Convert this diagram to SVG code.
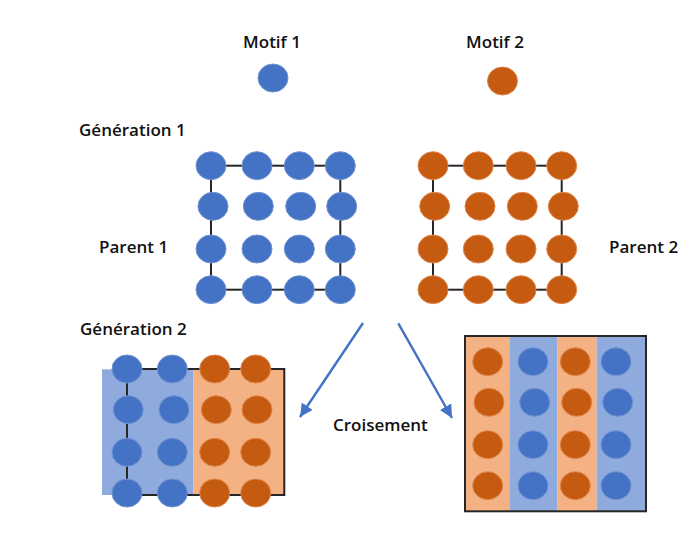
<svg xmlns="http://www.w3.org/2000/svg" width="685" height="537" viewBox="0 0 685 537">
<style>
.b{fill:#4472c4;stroke:#6f93d3;stroke-width:1}
.o{fill:#c55a11;stroke:#e0864a;stroke-width:1}
.ln{fill:none;stroke:#262626;stroke-width:2}
.t{font-family:"Open Sans","Liberation Sans",sans-serif;font-size:17px;font-weight:600;fill:#111}
.arr{stroke:#4472c4;stroke-width:2.400;fill:none;marker-end:url(#ah)}
</style>
<defs>
<marker id="ah" markerUnits="userSpaceOnUse" markerWidth="16" markerHeight="14" refX="13" refY="6.500" orient="auto"><path d="M0 0L13 6.500L0 13Z" fill="#4472c4"/></marker>
<ellipse id="c" cx="0" cy="0" rx="15" ry="14"/>
</defs>
<rect width="685" height="537" fill="#fff"/>
<g id="labels">
<text class="t" x="272" y="48" text-anchor="middle">Motif 1</text>
<text class="t" x="495" y="48" text-anchor="middle">Motif 2</text>
<text class="t" x="79" y="136">Génération 1</text>
<text class="t" x="99" y="253">Parent 1</text>
<text class="t" x="609" y="253">Parent 2</text>
<text class="t" x="80" y="335">Génération 2</text>
<text class="t" x="333" y="431">Croisement</text>
</g>
<g id="motif1"><use href="#c" class="b" x="273" y="78"/></g>
<g id="motif2"><use href="#c" class="o" x="502.500" y="81"/></g>
<g id="connectors">
<path class="arr" d="M363 323L300 417"/>
<path class="arr" d="M398.300 323.300L452 418"/>
</g>
<g id="parent1">
<rect class="ln" x="211" y="165.700" width="129.300" height="124"/>
<use href="#c" class="b" x="211" y="165.700"/><use href="#c" class="b" x="257" y="165.700"/><use href="#c" class="b" x="299.300" y="165.700"/><use href="#c" class="b" x="340.300" y="165.700"/>
<use href="#c" class="b" x="213" y="206.300"/><use href="#c" class="b" x="258.300" y="206.300"/><use href="#c" class="b" x="300.700" y="206.300"/><use href="#c" class="b" x="341.700" y="206.300"/>
<use href="#c" class="b" x="211" y="249"/><use href="#c" class="b" x="257" y="249"/><use href="#c" class="b" x="299.300" y="249"/><use href="#c" class="b" x="340.300" y="249"/>
<use href="#c" class="b" x="211" y="289.700"/><use href="#c" class="b" x="257" y="289.700"/><use href="#c" class="b" x="299.300" y="289.700"/><use href="#c" class="b" x="340.300" y="289.700"/>
</g>
<g id="parent2">
<rect class="ln" x="433" y="165.700" width="128.700" height="124"/>
<use href="#c" class="o" x="433" y="165.700"/><use href="#c" class="o" x="478.300" y="165.700"/><use href="#c" class="o" x="521" y="165.700"/><use href="#c" class="o" x="561.700" y="165.700"/>
<use href="#c" class="o" x="434.700" y="206.300"/><use href="#c" class="o" x="480" y="206.300"/><use href="#c" class="o" x="522.300" y="206.300"/><use href="#c" class="o" x="563.300" y="206.300"/>
<use href="#c" class="o" x="433" y="249"/><use href="#c" class="o" x="478.300" y="249"/><use href="#c" class="o" x="521" y="249"/><use href="#c" class="o" x="561.700" y="249"/>
<use href="#c" class="o" x="433" y="289.700"/><use href="#c" class="o" x="478.300" y="289.700"/><use href="#c" class="o" x="521" y="289.700"/><use href="#c" class="o" x="561.700" y="289.700"/>
</g>
<g id="child1">
<rect x="102" y="369.300" width="91.300" height="125.700" fill="#8faadc"/>
<rect x="193.300" y="369.300" width="91" height="125.700" fill="#f4b183"/>
<rect class="ln" x="127" y="369" width="157.300" height="126"/>
<use href="#c" class="b" x="127" y="369"/><use href="#c" class="b" x="172.300" y="369"/><use href="#c" class="o" x="214.700" y="369"/><use href="#c" class="o" x="255.700" y="369"/>
<use href="#c" class="b" x="128.300" y="409.700"/><use href="#c" class="b" x="174" y="409.700"/><use href="#c" class="o" x="216.300" y="409.700"/><use href="#c" class="o" x="257" y="409.700"/>
<use href="#c" class="b" x="127" y="452.300"/><use href="#c" class="b" x="172.300" y="452.300"/><use href="#c" class="o" x="214.700" y="452.300"/><use href="#c" class="o" x="255.700" y="452.300"/>
<use href="#c" class="b" x="127" y="493"/><use href="#c" class="b" x="172.300" y="493"/><use href="#c" class="o" x="214.700" y="493"/><use href="#c" class="o" x="255.700" y="493"/>
</g>
<g id="child2">
<rect x="465" y="336" width="45" height="175.300" fill="#f4b183"/>
<rect x="510" y="336" width="47.500" height="175.300" fill="#8faadc"/>
<rect x="557.500" y="336" width="39.200" height="175.300" fill="#f4b183"/>
<rect x="596.700" y="336" width="49.300" height="175.300" fill="#8faadc"/>
<rect class="ln" x="465" y="336" width="181" height="175.300"/>
<use href="#c" class="o" x="487.700" y="361.700"/><use href="#c" class="b" x="533" y="361.700"/><use href="#c" class="o" x="575.300" y="361.700"/><use href="#c" class="b" x="616" y="361.700"/>
<use href="#c" class="o" x="489" y="402.300"/><use href="#c" class="b" x="534.700" y="402.300"/><use href="#c" class="o" x="576.700" y="402.300"/><use href="#c" class="b" x="617.700" y="402.300"/>
<use href="#c" class="o" x="487.700" y="444.700"/><use href="#c" class="b" x="533" y="444.700"/><use href="#c" class="o" x="575.300" y="444.700"/><use href="#c" class="b" x="616" y="444.700"/>
<use href="#c" class="o" x="487.700" y="485.700"/><use href="#c" class="b" x="533" y="485.700"/><use href="#c" class="o" x="575.300" y="485.700"/><use href="#c" class="b" x="616" y="485.700"/>
</g>
</svg>
